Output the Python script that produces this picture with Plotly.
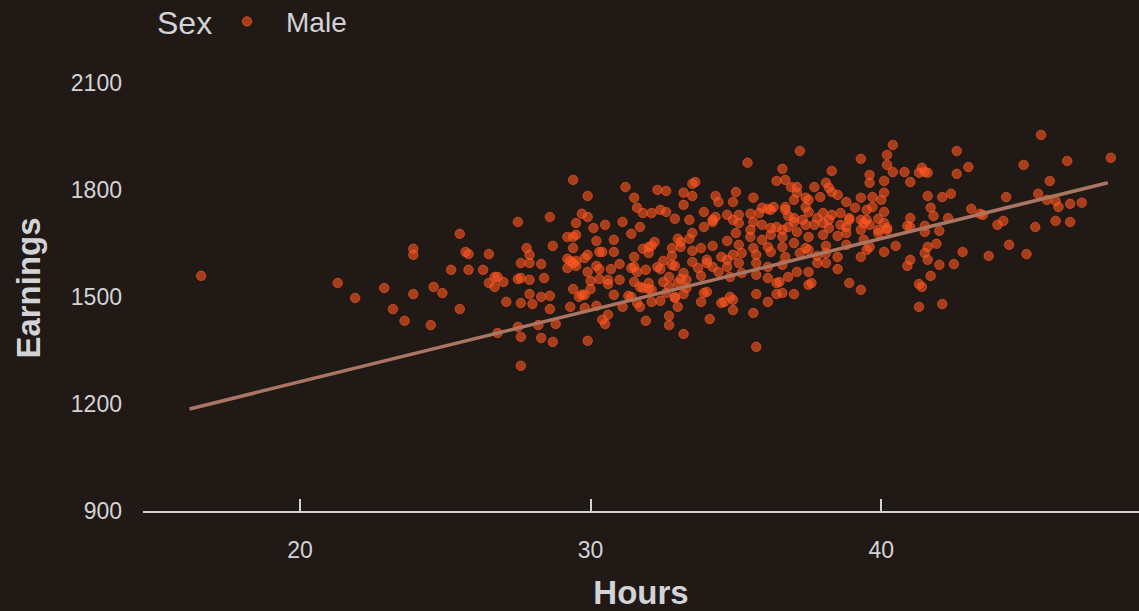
import plotly.graph_objects as go

hours = [
16.6,21.3,21.9,22.9,23.9,23.2,23.6,24.5,24.6,24.9,25.5,25.2,25.8,26.3,26.5,25.5,23.9,23.9,25.7,25.8,26.5,26.7,26.7,26.8,
26.8,27.0,27.1,27.5,27.8,27.9,27.6,27.9,28.3,27.5,27.6,27.9,28.4,27.9,27.6,28.0,28.3,28.6,28.6,28.6,28.7,27.5,28.2,28.8,27.6,28.3,28.7,27.6,
29.4,29.9,31.2,32.3,32.6,33.5,33.6,33.2,33.5,33.2,34.3,34.4,31.5,31.6,31.8,32.1,32.4,32.6,32.9,33.9,33.4,33.9,34.2,34.3,34.2,34.7,
29.7,29.9,29.5,30.1,30.5,31.1,31.7,31.4,29.2,29.4,29.5,30.2,30.8,29.4,29.9,29.8,30.3,30.4,30.8,29.2,29.3,29.4,29.5,29.2,29.5,
31.5,31.8,32.0,32.1,32.2,32.0,32.5,32.8,32.8,33.0,33.1,33.1,33.4,33.5,33.5,33.8,34.2,34.7,30.2,30.3,29.9,30.3,30.0,30.0,
30.7,31.0,31.0,30.6,30.6,31.4,31.5,31.6,31.5,31.9,32.3,32.4,31.7,31.8,32.0,32.0,32.1,32.5,32.7,32.8,32.9,32.7,
33.2,33.3,33.1,33.3,33.2,32.9,33.0,33.5,33.7,33.8,34.0,34.0,34.2,34.4,34.5,34.7,34.7,29.4,29.7,29.8,29.6,30.8,29.3,29.8,30.2,
31.1,31.3,31.4,31.6,31.7,32.1,32.4,32.6,32.9,33.0,33.8,33.9,34.0,34.5,34.6,34.8,30.6,30.4,30.5,31.9,32.7,32.7,34.1,33.2,29.9,
37.2,35.4,36.6,36.4,36.7,38.3,39.3,40.4,40.2,40.2,40.4,39.6,39.6,40.1,36.9,37.1,37.1,37.7,38.1,38.2,38.3,38.5,35.0,34.9,35.6,
36.3,36.1,36.7,37.0,37.4,37.5,37.9,37.4,38.8,39.1,39.3,39.7,40.0,40.1,35.1,35.5,35.8,35.9,36.2,36.7,36.8,37.0,37.5,37.8,38.0,
38.3,38.6,38.9,39.5,39.7,39.3,39.5,39.9,40.1,40.1,40.2,40.2,34.9,35.1,35.6,35.5,35.9,36.2,36.4,36.6,36.8,37.0,37.3,37.4,37.7,
38.0,38.2,38.2,38.6,38.8,38.9,39.4,39.6,39.9,39.3,35.0,35.5,35.9,36.2,36.6,37.1,37.5,38.0,38.5,38.8,35.1,35.6,36.1,36.6,37.0,
37.4,38.1,38.8,39.4,39.6,39.9,40.5,40.1,39.5,39.3,34.9,35.2,35.7,36.2,36.7,37.2,37.5,37.8,38.1,38.5,35.1,35.7,36.1,36.6,37.1,
37.5,37.8,38.1,34.8,35.2,35.7,36.1,36.4,36.5,36.8,37.5,37.6,38.5,38.9,39.3,35.7,36.1,36.4,36.6,37.0,34.9,34.9,35.6,35.7,
45.5,47.9,46.4,44.9,42.6,43.0,40.8,41.3,41.4,41.5,41.6,41.0,42.6,45.8,41.6,42.1,42.4,44.3,45.4,45.7,46.0,46.1,46.5,46.9,
41.7,41.8,41.0,40.9,41.0,41.5,41.5,42.0,42.3,43.1,43.4,43.5,44.0,44.2,45.3,46.0,46.5,41.9,41.6,41.5,41.6,41.0,40.9,42.8,
42.0,42.5,43.7,44.4,45.0,41.7,41.3,41.4,41.3,42.1,
]

earnings = [
1559,1539,1497,1525,1508,1466,1433,1421,1528,1511,1466,1576,1576,1576,1620,1677,1635,1618,1626,1620,1539,1556,1528,1399,
1556,1542,1486,1710,1637,1618,1595,1595,1592,1550,1553,1548,1553,1508,1483,1480,1500,1503,1466,1724,1643,1416,1421,1424,1388,1385,1374,1307,
1828,1783,1808,1800,1797,1817,1822,1792,1783,1758,1783,1766,1778,1750,1735,1735,1744,1738,1719,1738,1716,1696,1716,1724,1710,1730,
1733,1724,1707,1693,1702,1710,1696,1677,1668,1668,1674,1657,1660,1637,1618,1609,1626,1626,1626,1607,1601,1595,1601,1581,1587,
1612,1635,1640,1643,1654,1623,1601,1615,1637,1663,1654,1640,1663,1679,1629,1637,1643,1657,1587,1578,1570,1550,1522,1545,
1578,1592,1548,1548,1536,1581,1584,1570,1542,1576,1584,1578,1528,1525,1539,1522,1520,1542,1556,1590,1587,1528,
1567,1548,1550,1525,1508,1500,1539,1598,1581,1559,1595,1604,1584,1570,1612,1604,1584,1522,1506,1506,1500,1506,1472,1469,1475,
1472,1503,1500,1483,1472,1486,1489,1511,1497,1472,1486,1511,1514,1483,1486,1500,1450,1436,1424,1433,1447,1421,1438,1396,1377,
1909,1876,1859,1825,1828,1853,1887,1926,1898,1870,1850,1842,1820,1825,1808,1808,1792,1808,1820,1806,1794,1786,1794,1766,1778,
1752,1747,1752,1772,1778,1772,1780,1752,1766,1750,1778,1780,1772,1792,1730,1733,1735,1750,1744,1744,1727,1721,1738,1721,1735,
1730,1735,1721,1744,1752,1716,1716,1719,1738,1707,1693,1688,1716,1707,1710,1688,1702,1693,1696,1688,1696,1710,1716,1702,1702,
1707,1716,1693,1702,1696,1716,1707,1702,1688,1688,1679,1668,1660,1674,1668,1682,1668,1674,1671,1679,1646,1637,1640,1640,1651,
1637,1643,1646,1660,1640,1679,1643,1626,1632,1612,1618,1623,1618,1626,1612,1623,1632,1615,1623,1612,1595,1595,1584,1590,1570,
1570,1595,1595,1556,1567,1562,1553,1539,1542,1556,1534,1539,1578,1539,1520,1508,1486,1508,1511,1508,1492,1463,1455,1360,
1954,1890,1881,1870,1909,1864,1850,1848,1862,1850,1848,1822,1845,1825,1783,1780,1789,1780,1789,1772,1769,1752,1761,1764,
1750,1727,1721,1699,1696,1699,1682,1685,1721,1747,1733,1730,1702,1713,1696,1713,1710,1649,1640,1623,1604,1604,1587,1626,
1590,1592,1615,1646,1620,1559,1536,1528,1472,1480,
]

fit_hours = [16.2, 47.8]
fit_earnings = [1186, 1820]

series_name = "Male"
legend_title = "Sex"
x_title = "Hours"
y_title = "Earnings"
x_ticks = [20, 30, 40]
y_ticks = [900, 1200, 1500, 1800, 2100]

bg = "#211915"
txt = "#d2d3d6"
pt = "rgba(255,87,34,0.6)"

fig = go.Figure()
fig.add_trace(go.Scatter(
    x=hours, y=earnings, mode="markers", name=series_name,
    marker=dict(size=9.5, color=pt, line=dict(color=pt, width=1)),
))
fig.add_trace(go.Scatter(
    x=fit_hours, y=fit_earnings, mode="lines", showlegend=False,
    line=dict(color="#aa7562", width=3.5), hoverinfo="skip",
))

fig.add_annotation(
    text=legend_title, xref="paper", yref="paper",
    x=0.012, xanchor="left", y=1.094, yanchor="middle",
    showarrow=False, font=dict(size=32, color=txt),
)

fig.update_layout(
    width=1139, height=611,
    paper_bgcolor=bg, plot_bgcolor=bg,
    margin=dict(l=143, r=0, t=65, b=100, autoexpand=False),
    font=dict(family="Liberation Sans, Arial, sans-serif", color=txt, size=23),
    showlegend=True,
    legend=dict(
        orientation="h", x=0.0653, xanchor="left", y=1.097, yanchor="middle",
        font=dict(size=28, color=txt),
        itemwidth=68,
        bgcolor="rgba(0,0,0,0)",
    ),
    xaxis=dict(
        range=[14.6, 48.87], tickvals=x_ticks, showgrid=False, zeroline=False,
        showline=True, linecolor=txt, linewidth=1.5,
        ticks="inside", ticklen=12, tickwidth=1.5, tickcolor=txt,
        ticklabelstandoff=18, automargin=False,
        tickfont=dict(size=23, color=txt),
        title=dict(text="<b>" + x_title + "</b>", font=dict(size=33, color=txt), standoff=25),
    ),
    yaxis=dict(
        range=[900, 2150], tickvals=y_ticks, showgrid=False, zeroline=False,
        showline=False, ticks="", ticklabelstandoff=20, automargin=False,
        tickfont=dict(size=23, color=txt),
        title=dict(text="<b>" + y_title + "</b>", font=dict(size=33, color=txt), standoff=20),
    ),
)

fig.write_html("out.html")
